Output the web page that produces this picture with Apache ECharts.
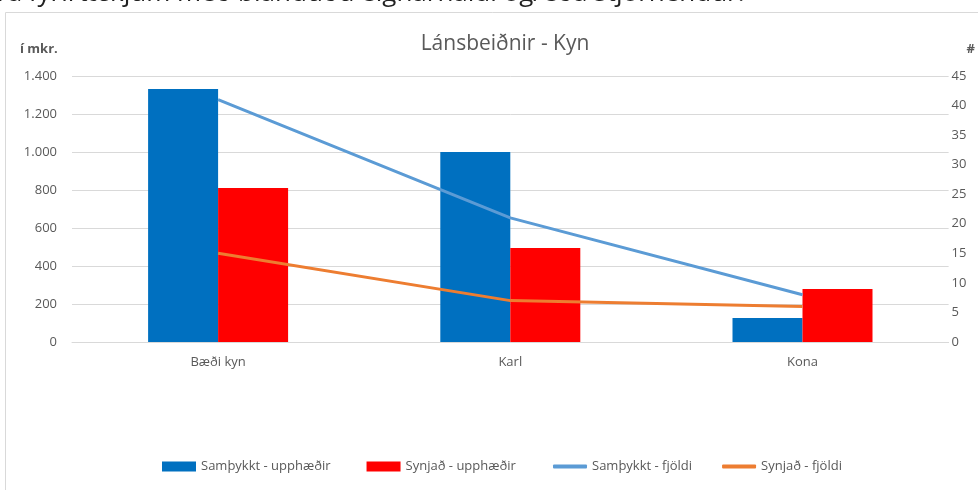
<!DOCTYPE html>
<html lang="is">
<head>
<meta charset="UTF-8">
<script src="https://cdn.jsdelivr.net/npm/echarts@6/dist/echarts.min.js"></script>
<style>
  html, body { margin: 0; padding: 0; background: #fff; }
  #main { width: 978px; height: 490px; }
</style>
</head>
<body>
<div id="main"></div>
<script type="text/javascript">
// flokkar og gildi
var categories = ['Bæði kyn', 'Karl', 'Kona'];
var samthykktUpphaedir = [1331, 1000, 126];
var synjadUpphaedir = [810, 495, 279];
var samthykktFjoldi = [41, 21, 8];
var synjadFjoldi = [15, 7, 6];

var txt = '#595959';
var font = '"Open Sans", "Liberation Sans", sans-serif';

var myChart = echarts.init(document.getElementById('main'));
myChart.setOption({
    animation: false,
    textStyle: { fontFamily: font },
    title: {
        text: 'Lánsbeiðnir - Kyn',
        left: 500,
        textAlign: 'center',
        top: 29,
        textStyle: { color: txt, fontSize: 21, fontWeight: 'normal', fontFamily: font }
    },
    graphic: [
        {
            type: 'rect',
            shape: { x: 5.5, y: 12.5, width: 1000, height: 500 },
            style: { fill: 'none', stroke: '#d9d9d9', lineWidth: 1 },
            silent: true
        },
        {
            type: 'text',
            left: -3,
            top: -19,
            style: {
                text: 'ra fyrirtækjum með blanduðu eignarhaldi og/eða stjórnendur.',
                fill: '#222',
                font: '26px "Open Sans", sans-serif'
            }
        }
    ],
    // súlur og línur í sitt hvorri skýringu svo línutáknin verði rétt
    legend: [
        {
            left: 157,
            bottom: 12,
            itemWidth: 34,
            itemHeight: 10,
            itemGap: 36,
            icon: 'rect',
            textStyle: { color: txt, fontSize: 13 },
            data: ['Samþykkt - upphæðir', 'Synjað - upphæðir']
        },
        {
            left: 548,
            bottom: 12,
            itemWidth: 34,
            itemHeight: 4,
            itemGap: 30,
            icon: 'roundRect',
            textStyle: { color: txt, fontSize: 13 },
            data: ['Samþykkt - fjöldi', 'Synjað - fjöldi']
        }
    ],
    grid: { left: 72, right: 28, top: 76, bottom: 148 },
    xAxis: {
        type: 'category',
        data: categories,
        axisLine: { lineStyle: { color: '#d9d9d9' } },
        axisTick: { show: false },
        axisLabel: { color: txt, fontSize: 13, margin: 14 }
    },
    yAxis: [
        {
            type: 'value',
            name: 'í mkr.',
            nameLocation: 'end',
            nameGap: 20,
            nameTextStyle: { color: txt, fontSize: 13, fontWeight: 'bold', align: 'left', padding: [0, 0, 0, -52] },
            min: 0,
            max: 1400,
            interval: 200,
            axisLine: { show: false },
            axisTick: { show: false },
            splitLine: { lineStyle: { color: '#d9d9d9' } },
            axisLabel: {
                color: txt, fontSize: 13, margin: 15,
                formatter: function (v) { return String(v).replace(/\B(?=(\d{3})+(?!\d))/g, '.'); }
            }
        },
        {
            type: 'value',
            name: '#',
            nameLocation: 'end',
            nameGap: 20,
            nameTextStyle: { color: txt, fontSize: 13, fontWeight: 'bold', align: 'left', padding: [0, 0, 0, 18] },
            min: 0,
            max: 45,
            interval: 5,
            axisLine: { show: false },
            axisTick: { show: false },
            splitLine: { show: false },
            axisLabel: { color: txt, fontSize: 13, margin: 3 }
        }
    ],
    series: [
        {
            name: 'Samþykkt - upphæðir',
            type: 'bar',
            data: samthykktUpphaedir,
            barWidth: 70,
            barGap: '0%',
            itemStyle: { color: '#0070C0' }
        },
        {
            name: 'Synjað - upphæðir',
            type: 'bar',
            data: synjadUpphaedir,
            barWidth: 70,
            itemStyle: { color: '#FF0000' }
        },
        {
            name: 'Samþykkt - fjöldi',
            type: 'line',
            yAxisIndex: 1,
            data: samthykktFjoldi,
            symbol: 'none',
            lineStyle: { color: '#5B9BD5', width: 3 },
            itemStyle: { color: '#5B9BD5' }
        },
        {
            name: 'Synjað - fjöldi',
            type: 'line',
            yAxisIndex: 1,
            data: synjadFjoldi,
            symbol: 'none',
            lineStyle: { color: '#ED7D31', width: 3 },
            itemStyle: { color: '#ED7D31' }
        }
    ]
});
</script>
</body>
</html>
